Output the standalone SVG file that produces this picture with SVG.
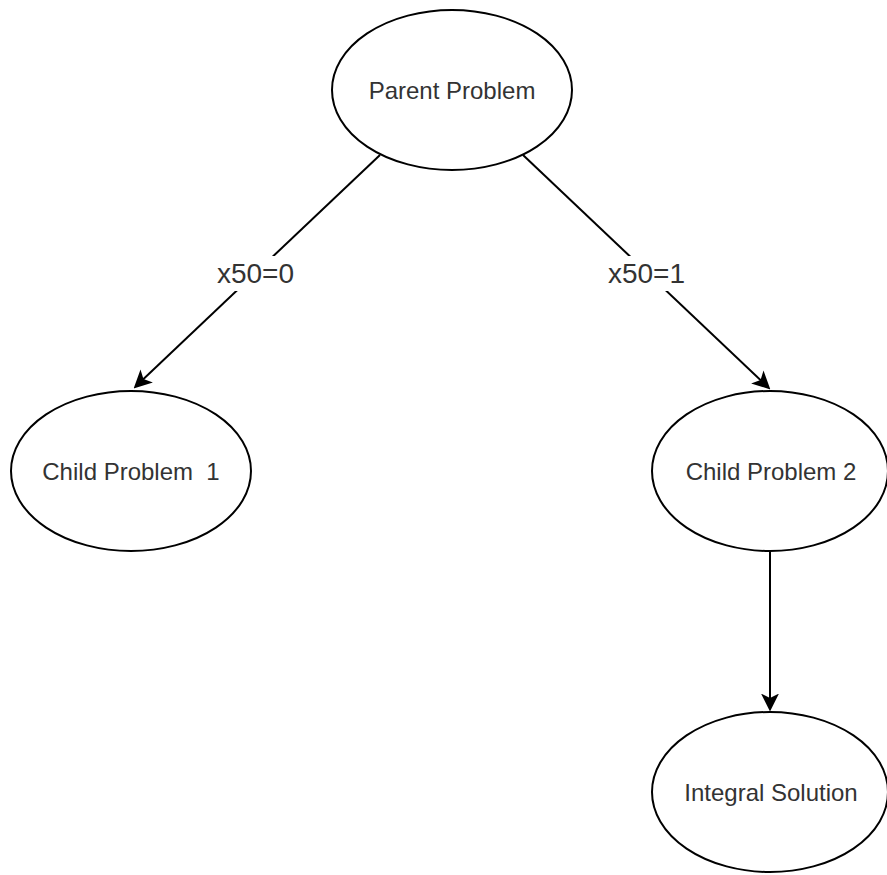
<svg xmlns="http://www.w3.org/2000/svg" width="887" height="875" viewBox="0 0 887 875">
<style>
.node ellipse{fill:#fff;stroke:#000;stroke-width:2}
.node text{font-family:"Liberation Sans",Arial,sans-serif;font-size:24px;fill:#333;text-anchor:middle}
.edge{stroke:#000;stroke-width:2;fill:none}
.lbl{font-family:"Liberation Sans",Arial,sans-serif;font-size:28px;fill:#333;text-anchor:middle}
</style>
<defs>
<marker id="arr" markerUnits="userSpaceOnUse" markerWidth="18" markerHeight="18" viewBox="0 0 16 16" refX="12" refY="8" orient="auto">
<path d="M0,0 L16,8 L0,16 L4,8 z" fill="#000"/>
</marker>
</defs>
<rect width="887" height="875" fill="#fff"/>
<g id="connectors">
<line class="edge" x1="380" y1="155" x2="136.9" y2="385.3" marker-end="url(#arr)"/>
<line class="edge" x1="523" y1="155" x2="767.1" y2="386.3" marker-end="url(#arr)"/>
<line class="edge" x1="770" y1="551" x2="770" y2="707" marker-end="url(#arr)"/>
<rect x="215" y="256" width="82" height="35" fill="#fff"/>
<text class="lbl" x="255.5" y="283">x50=0</text>
<rect x="606" y="256" width="81" height="35" fill="#fff"/>
<text class="lbl" x="646.5" y="283">x50=1</text>
</g>
<g id="parent" class="node">
<ellipse cx="452" cy="90" rx="120" ry="80"/>
<text x="452" y="98.5">Parent Problem</text>
</g>
<g id="child1" class="node">
<ellipse cx="131" cy="471" rx="120" ry="80"/>
<text x="131" y="479.5" xml:space="preserve">Child Problem  1</text>
</g>
<g id="child2" class="node">
<ellipse cx="770" cy="471" rx="118" ry="80"/>
<text x="771" y="479.5">Child Problem 2</text>
</g>
<g id="integral" class="node">
<ellipse cx="770" cy="792" rx="118" ry="80"/>
<text x="771" y="800.5">Integral Solution</text>
</g>
</svg>
